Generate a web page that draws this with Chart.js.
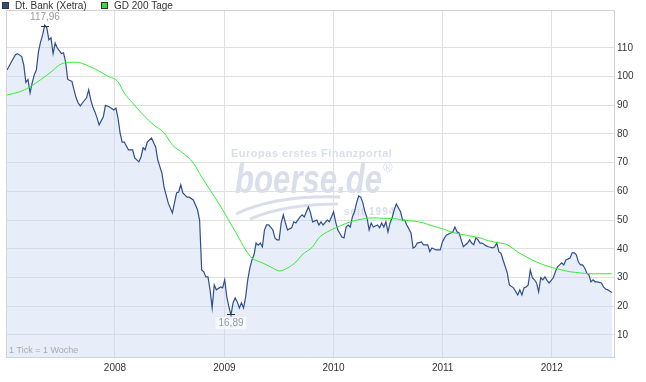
<!DOCTYPE html>
<html>
<head>
<meta charset="utf-8">
<script src="https://cdn.jsdelivr.net/npm/chart.js@4.4.1/dist/chart.umd.min.js"></script>
<style>
  html, body { margin: 0; padding: 0; background: #fff; }
  canvas { display: block; }
</style>
</head>
<body>
<canvas id="chart" width="646" height="382"></canvas>
<script>
'use strict';
// DATA (1 TICK = 1 WEEK, WEEK 0 = 5 JAN 2007)
const startDay = Date.UTC(2007, 0, 5);
const WEEK = 7 * 24 * 3600 * 1000;

const priceWeeks = [
  0, 2, 4, 5, 7, 8, 9, 10, 11, 12, 13, 14, 15, 16, 17, 18, 19, 20, 21, 22, 23, 24, 26, 27, 28, 29,
  31, 32, 33, 34, 35, 36, 38, 39, 40, 41, 42, 43, 44, 46, 47, 49, 51, 52, 53, 54, 55, 56, 58, 60,
  61, 63, 64, 65, 66, 67, 69, 71, 72, 74, 75, 77, 79, 81, 82, 83, 84, 86, 87, 89, 91, 92, 93, 94,
  95, 96, 97, 98, 99, 100, 102, 103, 104, 105, 106, 107, 108, 109, 110, 111, 112, 113, 114, 115,
  116, 117, 118, 119, 120, 121, 122, 123, 124, 125, 127, 128, 129, 130, 131, 132, 133, 134, 136,
  137, 138, 140, 141, 142, 143, 144, 145, 146, 148, 149, 150, 151, 153, 154, 155, 156, 157, 158,
  160, 161, 162, 163, 164, 165, 166, 167, 168, 169, 170, 171, 172, 173, 174, 175, 177, 178, 179,
  180, 181, 182, 183, 184, 185, 186, 188, 189, 190, 191, 193, 194, 195, 196, 198, 199, 201, 202,
  203, 205, 207, 208, 209, 210, 212, 213, 214, 215, 216, 217, 218, 220, 221, 222, 223, 224, 225,
  226, 227, 229, 230, 232, 233, 234, 235, 236, 237, 239, 240, 242, 244, 245, 246, 247, 248, 249,
  250, 251, 252, 253, 254, 255, 256, 257, 258, 259, 261, 262, 263, 264, 265, 266, 267, 269, 270,
  271, 272, 273, 274, 275, 276, 277, 278, 279, 280, 281, 282, 284, 285, 286, 287, 289
];
const priceValues = [
  102.3, 105, 107.6, 108, 107, 104, 98, 99, 94.3, 97.8, 100.6, 102.3, 108.6, 112, 114.5, 117.96, 117,
  112.8, 113.5, 108, 111.7, 110, 108, 108.3, 105, 99,
  98.3, 95.4, 92.6, 90.8, 89.8, 90.8, 92.6, 95.4, 91.9, 89.4, 87.7, 85.6, 83.2, 86, 90, 89.4, 88.4,
  89, 85.6, 80.4, 77.2, 77.2, 74.5, 74.5,
  71.7, 70.3, 72, 75.2, 74.5, 77.2, 78.6, 75.5, 71, 66.4, 61.6, 56, 52.5, 59.5, 59.8, 62.3, 59.5, 58,
  58, 57, 53.6, 50, 32.6, 32,
  30.2, 30.2, 25.7, 19.4, 27.4, 25.7, 26.7, 26.4, 29.2, 23.2, 19.8, 16.89, 21.2, 22.9, 21.5, 19.4,
  21.2, 19.4, 23.2, 29.2,
  33.3, 36.1, 37.9, 42, 41.3, 42, 40.7, 46.6, 48.3, 48.3, 46.6, 43.8, 43.1, 43.1, 49, 51.8, 49, 46.6,
  47.3,
  49.4, 49, 51.1, 51.8, 51.1, 52.9, 54.6, 52.5, 49.4, 50, 48.3, 49.4, 48.3, 50, 49.4, 51.1, 52.9,
  49.4, 46.6,
  44.1, 43.8, 47.6, 48.3, 47.6, 51.1, 52.9, 56, 58.4, 58, 56, 52.9, 50.8, 46.6, 49, 47.6, 48.3, 47.3,
  49,
  47.6, 49.4, 45.9, 49, 50.8, 53.6, 55.6, 52.9, 50, 50, 48.3, 45.5, 40.3, 40.7, 42, 42.4, 41.4, 41.4,
  39,
  40.3, 39.6, 39.6, 42.4, 43.8, 44.8, 45.5, 45.9, 47.6, 45.9, 45.5, 43.1, 40.7, 42, 43.1, 42, 41.4,
  43.8, 43.1,
  42, 42, 41, 40.7, 40.3, 40.7, 42, 38.9, 38.5, 36.1, 31.6, 27.4, 26.4, 23.9, 25.7, 23.9, 26.4, 26.7,
  27.4,
  32.6, 29.9, 29.2, 28.1, 25, 29.9, 29.2, 30.2, 29, 28.1, 29.9, 32, 33.7, 34.4, 35.1, 34.4, 36.1,
  36.8, 38.6,
  38.6, 37.9, 35.4, 34.4, 34.4, 33.3, 31.6, 30.9, 28.5, 29.2, 28.5, 28.5, 28.1, 26.7, 26, 25.7, 24.8
];

const avgWeeks = [
  0, 6, 11, 16, 21, 25, 29, 33, 38, 43, 48, 53, 56, 60, 65, 70, 75, 79, 84, 89, 93, 97, 101, 105,
  110, 114, 117, 122, 127, 130, 134, 138, 141, 146, 149, 153, 158, 164, 170, 175, 180, 184, 189,
  194, 199, 203, 208, 212, 216, 221, 226, 230, 235, 239, 244, 248, 253, 258, 263, 269, 274, 278,
  283, 289
];
const avgValues = [
  93.6, 94.7, 96.4, 98.9, 101.6, 104, 105, 105, 104, 102.3, 100.2, 98.2, 94.3, 90.8, 86.7, 83.2,
  80.4, 76.2, 73.4, 69.9, 65, 60.5, 56, 51.1,
  44.8, 39.6, 36.8, 35.1, 33.3, 32.3, 33.3, 35.4, 37.9, 40.7, 43.8, 45.9, 47.6, 49.4, 50.4, 50.8,
  50.6, 50.6, 50,
  49.7, 49, 48, 47, 45.9, 45.2, 44.5, 43.8, 42.8, 42.1, 41.4, 38.9, 37.2, 35.4, 34, 33, 32, 31.6,
  31.3, 31.3, 31.3
];

const yearTicks = [2008, 2009, 2010, 2011, 2012];
const valueTicks = [10, 20, 30, 40, 50, 60, 70, 80, 90, 100, 110];
const seriesNames = ['Dt. Bank (Xetra)', 'GD 200 Tage'];
const tickNote = '1 Tick = 1 Woche';

const FONT = '"Liberation Sans", Arial, sans-serif';

function toPoints(weeks, values) {
  return weeks.map((w, i) => ({ x: startDay + w * WEEK, y: values[i] }));
}

function fmt(v) {
  return v.toFixed(2).replace('.', ',');
}

// WATERMARK, FRAME, MIN/MAX LABELS AND LEGEND
const decor = {
  id: 'decor',
  beforeDraw(chart) {
    const ctx = chart.ctx;
    ctx.save();
    ctx.fillStyle = '#fff';
    ctx.fillRect(0, 0, chart.width, chart.height);
    ctx.restore();
  },
  beforeDatasetsDraw(chart) {
    const ctx = chart.ctx;
    const c = '#dadeeb';
    ctx.save();
    ctx.fillStyle = c;
    ctx.strokeStyle = c;
    ctx.textBaseline = 'alphabetic';
    ctx.font = 'bold 11px ' + FONT;
    ctx.letterSpacing = '0.5px';
    ctx.fillText('Europas erstes Finanzportal', 231, 157);
    ctx.letterSpacing = '0px';
    ctx.save();
    ctx.translate(235, 193);
    ctx.scale(0.76, 1);
    ctx.font = 'italic bold 41px ' + FONT;
    ctx.fillText('boerse.de', 0, 0);
    ctx.restore();
    ctx.font = '13px ' + FONT;
    ctx.fillText('\u00AE', 383, 172);
    ctx.font = 'bold 10px ' + FONT;
    ctx.letterSpacing = '1px';
    ctx.fillText('seit 1994', 344, 215);
    ctx.letterSpacing = '0px';
    ctx.lineWidth = 3;
    ctx.beginPath();
    ctx.moveTo(236, 214);
    ctx.quadraticCurveTo(275, 195, 340, 197);
    ctx.stroke();
    ctx.beginPath();
    ctx.moveTo(250, 219);
    ctx.quadraticCurveTo(285, 204, 338, 204);
    ctx.stroke();
    ctx.restore();
  },
  afterDatasetsDraw(chart) {
    const ctx = chart.ctx;
    const a = chart.chartArea;
    const xs = chart.scales.x;
    const ys = chart.scales.y;
    ctx.save();

    // FRAME
    ctx.strokeStyle = '#d4d4d4';
    ctx.lineWidth = 1;
    ctx.beginPath();
    ctx.moveTo(a.left + 0.5, a.bottom);
    ctx.lineTo(a.left + 0.5, a.top + 0.5);
    ctx.lineTo(a.right, a.top + 0.5);
    ctx.stroke();

    // MAX AND MIN MARKERS
    const hi = priceValues.indexOf(Math.max(...priceValues));
    const lo = priceValues.indexOf(Math.min(...priceValues));
    ctx.font = '10px ' + FONT;
    ctx.textAlign = 'center';
    [[hi, -1], [lo, 1]].forEach(([i, dir]) => {
      const px = Math.round(xs.getPixelForValue(startDay + priceWeeks[i] * WEEK));
      const py = Math.round(ys.getPixelForValue(priceValues[i])) - dir;
      ctx.strokeStyle = '#333';
      ctx.beginPath();
      ctx.moveTo(px - 4, py + 0.5);
      ctx.lineTo(px + 4, py + 0.5);
      ctx.stroke();
      const label = fmt(priceValues[i]);
      const w = ctx.measureText(label).width + 6;
      const cy = py + dir * 9;
      ctx.fillStyle = 'rgba(255,255,255,0.6)';
      ctx.fillRect(px - w / 2, cy - 6, w, 12);
      ctx.fillStyle = '#999';
      ctx.textBaseline = 'middle';
      ctx.fillText(label, px, cy);
    });

    // TICK NOTE
    ctx.textAlign = 'left';
    ctx.font = '9px ' + FONT;
    ctx.fillStyle = '#aaa';
    ctx.fillText(tickNote, a.left + 3, a.bottom - 6);

    // LEGEND
    ctx.font = '10px ' + FONT;
    ctx.textBaseline = 'middle';
    let lx = 2;
    chart.data.datasets.forEach((ds) => {
      ctx.fillStyle = ds.legendColor;
      ctx.fillRect(lx, 2, 7, 7);
      ctx.strokeStyle = '#333';
      ctx.strokeRect(lx + 0.5, 2.5, 6, 6);
      ctx.fillStyle = '#333';
      ctx.fillText(ds.label, lx + 13, 6);
      lx += 99;
    });
    ctx.restore();
  }
};

const config = {
  type: 'line',
  data: {
    datasets: [
      {
        label: seriesNames[0],
        data: toPoints(priceWeeks, priceValues),
        borderColor: '#2e4f8c',
        borderWidth: 1.2,
        backgroundColor: 'rgba(198,214,240,0.42)',
        legendColor: '#2e4f8c',
        fill: 'start',
        pointRadius: 0,
        tension: 0,
        order: 1
      },
      {
        label: seriesNames[1],
        data: toPoints(avgWeeks, avgValues),
        borderColor: '#33ee33',
        borderWidth: 1,
        legendColor: '#33dd33',
        fill: false,
        pointRadius: 0,
        cubicInterpolationMode: 'monotone',
        order: 0
      }
    ]
  },
  options: {
    responsive: false,
    animation: false,
    devicePixelRatio: 1,
    layout: { padding: { left: 6, top: 10, right: 0, bottom: 0 } },
    plugins: { legend: { display: false }, tooltip: { enabled: false } },
    scales: {
      x: {
        type: 'linear',
        min: startDay - 0.5 * WEEK,
        max: startDay + 290 * WEEK,
        afterBuildTicks: (s) => { s.ticks = yearTicks.map((y) => ({ value: Date.UTC(y, 0, 1) })); },
        afterFit: (s) => { s.height = 25; },
        grid: { color: '#e0e0e0', drawTicks: false },
        border: { color: '#d4d4d4' },
        ticks: {
          autoSkip: false,
          maxRotation: 0,
          padding: 5,
          color: '#333',
          font: { size: 10, family: FONT },
          callback: (v) => new Date(v).getUTCFullYear()
        }
      },
      y: {
        type: 'linear',
        position: 'right',
        min: 2.3,
        max: 123.2,
        afterBuildTicks: (s) => { s.ticks = valueTicks.map((v) => ({ value: v })); },
        afterFit: (s) => { s.width = 32; },
        grid: { color: '#e0e0e0', drawTicks: false },
        border: { color: '#d4d4d4' },
        ticks: { padding: 3, color: '#333', font: { size: 10, family: FONT } }
      }
    }
  },
  plugins: [decor]
};

const stockChart = new Chart(document.querySelector('#chart'), config);
</script>
</body>
</html>
